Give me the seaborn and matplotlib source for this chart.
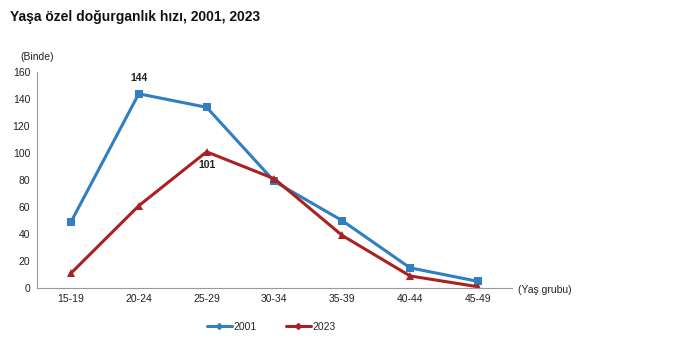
import matplotlib
matplotlib.use("Agg")
import matplotlib.pyplot as plt
import seaborn as sns
import pandas as pd

categories = ["15-19", "20-24", "25-29", "30-34", "35-39", "40-44", "45-49"]
values_2001 = [49, 144, 134, 79, 50, 15, 5]
values_2023 = [11, 61, 101, 81, 39, 9, 1]
series_names = ["2001", "2023"]

sns.set_theme(style="white")
plt.rcParams['font.family'] = ['Liberation Sans', 'DejaVu Sans']

df = pd.DataFrame({
    "Yaş grubu": categories * 2,
    "value": values_2001 + values_2023,
    "series": [series_names[0]] * len(categories) + [series_names[1]] * len(categories),
})
df["x"] = list(range(len(categories))) * 2

fig = plt.figure(figsize=(6.86, 3.61), dpi=100)
ax = fig.add_axes([0.054, 0.202, 0.692, 0.598])

colors = {"2001": "#2f7fc1", "2023": "#ab2121"}
markers = {"2001": "s", "2023": "^"}
sns.lineplot(data=df, x="x", y="value", hue="series", style="series",
             palette=colors, markers=markers, dashes=False, linewidth=2.2,
             markersize=6, markeredgewidth=0, ax=ax, legend=False)

ax.set_xlim(-0.5, len(categories) - 0.5)
ax.set_ylim(0, 160)
ax.set_yticks(range(0, 161, 20))
ax.set_xticks(range(len(categories)))
ax.set_xticklabels(categories)
ax.set_xticks([i + 0.5 for i in range(-1, len(categories))], minor=True)
ax.tick_params(axis="x", which="major", length=0, labelsize=7.5, pad=4, colors="#222222")
ax.tick_params(axis="x", which="minor", length=3, width=0.8, color="#999999", direction="out")
ax.tick_params(axis="y", which="major", length=3, width=0.8, labelsize=7.5, pad=2, colors="#222222", direction="out")
ax.tick_params(axis="y", color="#999999")
ax.set_xlabel("")
ax.set_ylabel("")
for s in ["top", "right"]:
    ax.spines[s].set_visible(False)
for s in ["left", "bottom"]:
    ax.spines[s].set_color("#999999")
    ax.spines[s].set_linewidth(0.8)

# data labels
ax.annotate(str(values_2001[1]), (1, values_2001[1]), xytext=(0, 8), textcoords="offset points",
            ha="center", va="bottom", fontsize=7.5, fontweight="bold", color="#222222")
ax.annotate(str(values_2023[2]), (2, values_2023[2]), xytext=(0, -6), textcoords="offset points",
            ha="center", va="top", fontsize=7.5, fontweight="bold", color="#222222")

fig.text(0.0146, 0.953, "Yaşa özel doğurganlık hızı, 2001, 2023", fontsize=10, fontweight="bold",
         ha="left", va="center", color="#111111")
fig.text(0.03, 0.842, "(Binde)", fontsize=7.5, ha="left", va="center", color="#222222")
fig.text(0.755, 0.198, "(Yaş grubu)", fontsize=7.5, ha="left", va="center", color="#222222")

from matplotlib.lines import Line2D
handles = [Line2D([0], [0], color=colors[n], lw=2.2, marker="D", markersize=3) for n in series_names]
fig.legend(handles, series_names, loc="center", bbox_to_anchor=(0.395, 0.095), ncol=2, frameon=False,
           fontsize=7.5, handlelength=2.4, columnspacing=2.8, handletextpad=0.15)

fig.savefig("out.png", dpi=100)
